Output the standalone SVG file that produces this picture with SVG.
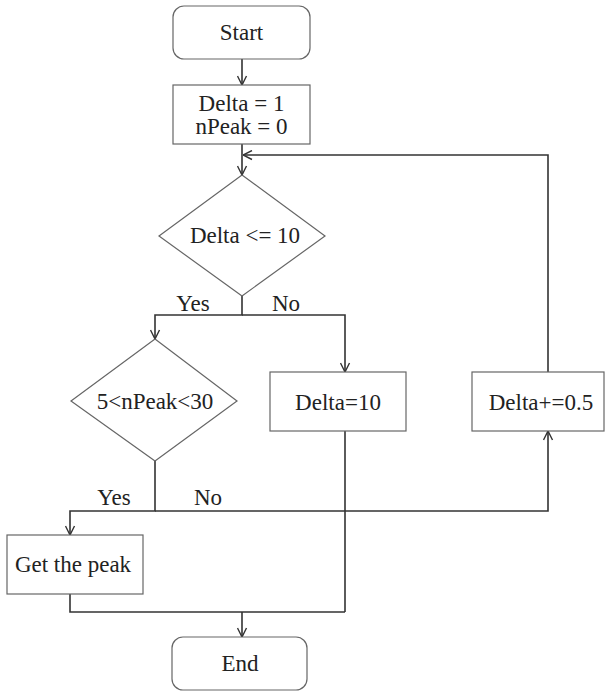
<svg xmlns="http://www.w3.org/2000/svg" width="605" height="691" viewBox="0 0 605 691">
<style>
.box{fill:#fff;stroke:#666;stroke-width:1.2}
.t{font-family:"Liberation Serif","Times New Roman",serif;font-size:23px;fill:#222;text-anchor:middle}
.c{fill:none;stroke:#333;stroke-width:1.6}
</style>
<defs>
<marker id="ah" viewBox="0 0 10 10" refX="10" refY="5" markerWidth="10" markerHeight="11" markerUnits="userSpaceOnUse" orient="auto">
<path d="M1,0.5 L10,5 L1,9.5" fill="none" stroke="#333" stroke-width="1.4"/>
</marker>
</defs>
<rect width="605" height="691" fill="#fff"/>
<g id="connectors">
<path class="c" d="M242,59 V85" marker-end="url(#ah)"/>
<path class="c" d="M242,144 V175" marker-end="url(#ah)"/>
<path class="c" d="M548,372 V155 H243" marker-end="url(#ah)"/>
<path class="c" d="M242,296 V315 H155 V339" marker-end="url(#ah)"/>
<path class="c" d="M242,315 H345 V372" marker-end="url(#ah)"/>
<path class="c" d="M155,461 V511 H70 V535" marker-end="url(#ah)"/>
<path class="c" d="M155,511 H548 V431" marker-end="url(#ah)"/>
<path class="c" d="M345,431 V612"/>
<path class="c" d="M70,594 V612 H345"/>
<path class="c" d="M242,612 V637" marker-end="url(#ah)"/>
</g>
<g id="start"><rect class="box" x="173" y="6" width="137" height="53" rx="11"/><text class="t" x="241.5" y="40">Start</text></g>
<g id="init"><rect class="box" x="173" y="85" width="137" height="59"/><text class="t" x="241.5" y="111">Delta = 1</text><text class="t" x="241.5" y="134">nPeak = 0</text></g>
<g id="cond1"><polygon class="box" points="242,175 325,236 242,296 159,236"/><text class="t" x="245" y="243">Delta &lt;= 10</text></g>
<g id="labels1"><text class="t" x="193" y="311">Yes</text><text class="t" x="286" y="311">No</text></g>
<g id="cond2"><polygon class="box" points="155,339 237,401 155,461 71,401"/><text class="t" x="155" y="409">5&lt;nPeak&lt;30</text></g>
<g id="set10"><rect class="box" x="270" y="372" width="136" height="59"/><text class="t" x="338" y="410">Delta=10</text></g>
<g id="inc"><rect class="box" x="472" y="372" width="132" height="59"/><text class="t" x="541" y="410">Delta+=0.5</text></g>
<g id="labels2"><text class="t" x="114" y="505">Yes</text><text class="t" x="208" y="505">No</text></g>
<g id="getpeak"><rect class="box" x="7" y="535" width="136" height="59"/><text class="t" x="73" y="572">Get the peak</text></g>
<g id="end"><rect class="box" x="172" y="637" width="135" height="53" rx="11"/><text class="t" x="240" y="671">End</text></g>
</svg>
